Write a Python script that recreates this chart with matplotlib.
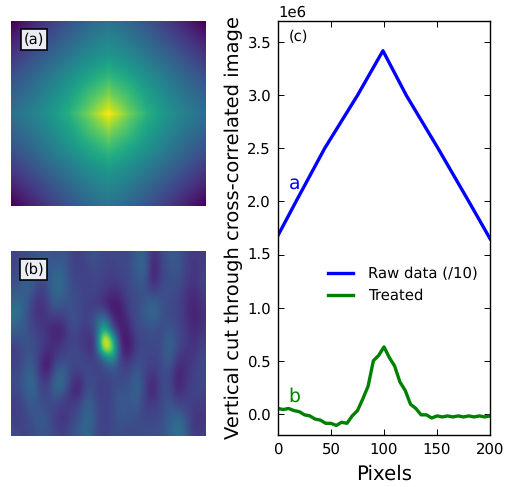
import numpy as np
import matplotlib
matplotlib.use('Agg')
import matplotlib.pyplot as plt

plt.rcParams['text.hinting'] = 'no_hinting'

# panel (a), one quadrant in hundredths, mirrored when drawn
a_offsets = [0, 2, 5, 10, 20, 30, 40, 50]
a_quadrant = [
    [100, 96, 90, 80, 64, 52, 43, 36],
    [ 95, 91, 86, 77, 62, 51, 42, 35],
    [ 90, 86, 82, 74, 60, 50, 41, 34],
    [ 82, 78, 75, 70, 57, 47, 38, 31],
    [ 67, 65, 63, 59, 50, 41, 32, 25],
    [ 55, 53, 52, 49, 41, 33, 25, 17],
    [ 46, 45, 44, 41, 33, 25, 17,  9],
    [ 38, 37, 36, 33, 26, 18,  9,  0],
]

# treated image, coarse grid, in hundredths
img_b = [
    [20, 22, 24, 26, 28, 24, 28, 20, 18, 24, 26, 20, 22, 22, 20, 30, 32, 10, 20, 28, 28, 20, 16, 18],
    [20, 24, 26, 26, 28, 28, 30, 20, 18, 22, 24, 20, 20, 22, 22, 30, 34,  6, 20, 26, 28, 20, 14, 18],
    [22, 26, 30, 24, 26, 34, 32, 20, 20, 20, 22, 20, 18, 20, 22, 28, 32,  6, 20, 24, 26, 20, 14, 20],
    [24, 28, 30, 20, 24, 36, 32, 22, 20, 20, 22, 18, 16, 18, 22, 26, 28, 10, 22, 24, 24, 18, 14, 20],
    [28, 30, 28, 16, 22, 36, 30, 24, 22, 20, 20, 16, 12, 14, 22, 24, 26, 20, 24, 24, 22, 16, 10, 18],
    [34, 32, 22, 12, 20, 30, 26, 24, 22, 18, 18, 12,  6, 10, 20, 22, 28, 32, 24, 24, 20, 16,  8, 16],
    [38, 32, 20, 12, 18, 24, 22, 26, 22, 18, 22, 22,  6,  6, 18, 24, 28, 36, 26, 22, 20, 16,  8, 14],
    [36, 30, 20, 14, 16, 14, 16, 26, 22, 18, 30, 46, 14,  6, 14, 24, 26, 32, 24, 24, 20, 16,  8, 14],
    [30, 28, 22, 18, 14,  8, 12, 24, 20, 16, 24, 72, 26,  6, 10, 22, 24, 26, 22, 28, 22, 18, 10, 16],
    [24, 26, 24, 20, 16, 10, 14, 22, 18, 14, 16, 118, 64,  6,  6, 20, 22, 22, 22, 32, 22, 18, 12, 18],
    [18, 24, 26, 20, 12, 14, 18, 22, 20, 14, 16, 106, 84,  8,  6, 20, 22, 22, 22, 34, 22, 16, 14, 20],
    [18, 24, 28, 18,  6, 18, 22, 22, 22, 18, 18, 38, 60, 14, 12, 22, 22, 20, 22, 32, 16, 14, 16, 22],
    [20, 24, 32, 16,  4, 24, 28, 20, 22, 22, 20, 22, 32, 20, 18, 26, 22, 18, 22, 28, 10, 14, 18, 22],
    [22, 26, 36, 18, 10, 32, 34, 18, 14, 24, 20, 20, 24, 22, 22, 32, 20, 12, 22, 24,  8, 14, 20, 22],
    [22, 26, 38, 22, 16, 36, 32, 14, 10, 26, 20, 18, 22, 24, 24, 34, 20,  8, 22, 24,  8, 16, 20, 22],
    [20, 24, 34, 24, 20, 30, 24, 12, 12, 30, 20, 18, 22, 28, 24, 34, 18, 10, 22, 26, 12, 18, 20, 20],
    [18, 22, 28, 26, 22, 22, 18, 18, 20, 34, 22, 18, 22, 30, 26, 30, 18, 16, 22, 28, 20, 20, 18, 18],
    [18, 20, 26, 28, 24, 20, 14, 20, 24, 34, 24, 18, 22, 28, 26, 26, 20, 20, 22, 28, 30, 24, 16, 16],
    [20, 20, 24, 28, 26, 18, 14, 22, 26, 36, 24, 18, 22, 26, 24, 24, 22, 22, 24, 30, 38, 28, 14, 16],
    [22, 20, 22, 26, 26, 20, 18, 24, 30, 34, 22, 20, 22, 24, 22, 22, 24, 24, 24, 30, 40, 30, 16, 18],
]

raw_x = [0, 17, 44, 75, 99, 121, 151, 180, 200]
raw_y = [1.68, 2.00, 2.50, 3.00, 3.42, 3.00, 2.50, 2.00, 1.65]

treated_x = list(range(0, 205, 5))
treated_y = [0.05, 0.04, 0.05, 0.03, 0.02, -0.01, -0.02, -0.05, -0.06, -0.09,
             -0.09, -0.11, -0.08, -0.09, -0.02, 0.03, 0.14, 0.26, 0.50, 0.55,
             0.63, 0.53, 0.45, 0.30, 0.22, 0.09, 0.05, -0.01, -0.01, -0.04,
             -0.02, -0.03, -0.02, -0.03, -0.02, -0.03, -0.02, -0.03, -0.02, -0.03, -0.02]

W, H = 506, 487
fig = plt.figure(figsize=(W / 100, H / 100), dpi=100)


def box(x0, y0, x1, y1):
    return [x0 / W, 1 - y1 / H, (x1 - x0) / W, (y1 - y0) / H]


def label_panel(ax, lab):
    ax.axis('off')
    ax.text(0.116, 0.90, lab, transform=ax.transAxes, ha='center', va='center', fontsize=10.5,
            bbox=dict(facecolor='white', edgecolor='black', alpha=0.9, lw=1.3,
                      boxstyle='square,pad=0.2'))


# the offsets are uneven, so put the quadrant on an even grid before mirroring
ax = fig.add_axes(box(11, 21, 206, 206))
even = np.arange(0, 51)
q = np.array([np.interp(even, a_offsets, row) for row in a_quadrant])
q = np.array([np.interp(even, a_offsets, col) for col in q.T]).T
right = np.hstack([q[:, :0:-1], q])
full = np.vstack([right[:0:-1], right])
ax.imshow(full, cmap='viridis', aspect='auto', interpolation='bilinear', vmin=0, vmax=100)
label_panel(ax, '(a)')

ax = fig.add_axes(box(11, 251, 206, 436))
ax.imshow(img_b, cmap='viridis', aspect='auto', interpolation='bicubic', vmin=0, vmax=100)
label_panel(ax, '(b)')

ax = fig.add_axes(box(278, 21, 490, 435))
ax.plot(raw_x, np.array(raw_y) * 1e6, color='b', lw=2.4, label='Raw data (/10)')
ax.plot(treated_x, np.array(treated_y) * 1e6, color='g', lw=2.4, label='Treated')
ax.set_xlim(0, 200)
ax.set_ylim(-0.2e6, 3.7e6)
ax.set_xticks([0, 50, 100, 150, 200])
ax.set_yticks(np.arange(0, 3.6e6, 0.5e6))
ax.tick_params(direction='in', top=True, right=True, length=4, labelsize=10.75, width=0.7, pad=5)
ax.ticklabel_format(axis='y', style='sci', scilimits=(0, 0))
ax.yaxis.get_offset_text().set_fontsize(10.75)
for s in ax.spines.values():
    s.set_linewidth(1.0)
ax.set_xlabel('Pixels', fontsize=14.2, labelpad=6)
ax.set_ylabel('Vertical cut through cross-correlated image', fontsize=14.0, labelpad=3)
ax.text(10, 3.55e6, '(c)', fontsize=10.5, ha='left', va='center')
ax.text(10, 2.17e6, 'a', color='b', fontsize=13.5, ha='left', va='center')
ax.text(10, 0.16e6, 'b', color='g', fontsize=13.5, ha='left', va='center')
ax.legend(loc='center left', bbox_to_anchor=(50 / 212, 150 / 414), frameon=False, fontsize=10.75,
          handlelength=1.65, handletextpad=1.0, labelspacing=0.5, borderpad=0, borderaxespad=0)

fig.savefig('out.png', dpi=100)
